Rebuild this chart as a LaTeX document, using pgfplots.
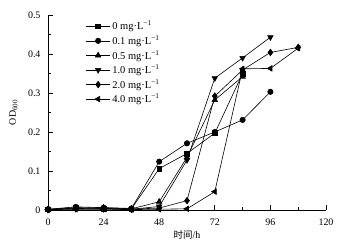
\documentclass[border=0pt]{standalone}
\usepackage{fontspec}
\setmainfont{Liberation Serif}
\newfontfamily\cjk{Noto Sans CJK SC}
\usepackage{pgfplots}
\pgfplotsset{compat=1.18}
\usetikzlibrary{calc}
\begin{document}
\begin{tikzpicture}
\begin{axis}[
  name=ax,
  scale only axis,
  width=278bp, height=195bp,
  xmin=0, xmax=120, ymin=0, ymax=0.5,
  axis x line=bottom, axis y line=left,
  axis line style={-, line width=0.8pt},
  tick align=inside,
  xtick={0,24,48,72,96,120},
  minor xtick={12,36,60,84,108},
  ytick={0,0.1,0.2,0.3,0.4,0.5},
  minor ytick={0.05,0.15,0.25,0.35,0.45},
  yticklabels={0,0.1,0.2,0.3,0.4,0.5},
  major tick length=5bp, minor tick length=3bp,
  tick style={black, line width=0.7pt},
  /pgf/number format/assume math mode=true,
  tick label style={font=\fontsize{10}{11}\selectfont},
  xticklabel style={yshift=-5bp},
  yticklabel style={xshift=-4bp},
  xlabel={{\cjk\fontsize{9.5}{10}\selectfont 时间}/h},
  ylabel={OD\textsubscript{600}},
  label style={font=\fontsize{10}{11}\selectfont},
  xlabel style={yshift=1bp},
  ylabel style={at={(axis description cs:-0.125,0.5)}, anchor=center},
  legend style={at={(0.125,0.99)}, anchor=north west, draw=none, fill=none,
    font=\fontsize{10.5}{11}\selectfont, row sep=0.3bp,
    legend cell align=left},
  legend image code/.code={\draw[mark repeat=2,mark phase=2] plot coordinates {(0cm,0cm) (0.42cm,0cm) (0.84cm,0cm)};},
  clip=false,
]
\addplot[black, line width=0.6pt, mark=square*, mark options={solid, fill=black, mark size=2.4pt}] coordinates {
 (0,0.002) (12,0.006) (24,0.004) (36,0.003) (48,0.106) (60,0.145) (72,0.197) (84,0.350)};
\addlegendentry{0 mg·L\textsuperscript{−1}}
\addplot[black, line width=0.6pt, mark=*, mark options={solid, fill=black, mark size=2.7pt}] coordinates {
 (0,0.002) (12,0.008) (24,0.006) (36,0.004) (48,0.124) (60,0.171) (72,0.200) (84,0.231) (96,0.303)};
\addlegendentry{0.1 mg·L\textsuperscript{−1}}
\addplot[black, line width=0.6pt, mark=triangle*, mark options={solid, fill=black, mark size=3.2pt}] coordinates {
 (0,0.001) (12,0.005) (24,0.006) (36,0.003) (48,0.021) (60,0.135) (72,0.282) (84,0.342)};
\addlegendentry{0.5 mg·L\textsuperscript{−1}}
\addplot[black, line width=0.6pt, mark=triangle*, mark options={solid, fill=black, rotate=180, mark size=3.2pt}] coordinates {
 (0,0.001) (12,0.004) (24,0.003) (36,0.002) (48,0.009) (60,0.128) (72,0.338) (84,0.390) (96,0.443)};
\addlegendentry{1.0 mg·L\textsuperscript{−1}}
\addplot[black, line width=0.6pt, mark=diamond*, mark options={solid, fill=black, mark size=3.3pt}] coordinates {
 (0,0.001) (12,0.003) (24,0.003) (36,0.002) (48,0.005) (60,0.024) (72,0.292) (84,0.359) (96,0.404) (108,0.417)};
\addlegendentry{2.0 mg·L\textsuperscript{−1}}
\addplot[black, line width=0.6pt, mark=triangle*, mark options={solid, fill=black, rotate=90, mark size=3.2pt}] coordinates {
 (0,0.001) (12,0.002) (24,0.002) (36,0.001) (48,0.002) (60,0.003) (72,0.047) (84,0.362) (96,0.363) (108,0.415)};
\addlegendentry{4.0 mg·L\textsuperscript{−1}}
\end{axis}
\pgfresetboundingbox
\path ($(ax.south west)+(-48bp,-40bp)$) rectangle ($(ax.north east)+(18bp,15bp)$);
\end{tikzpicture}
\end{document}
